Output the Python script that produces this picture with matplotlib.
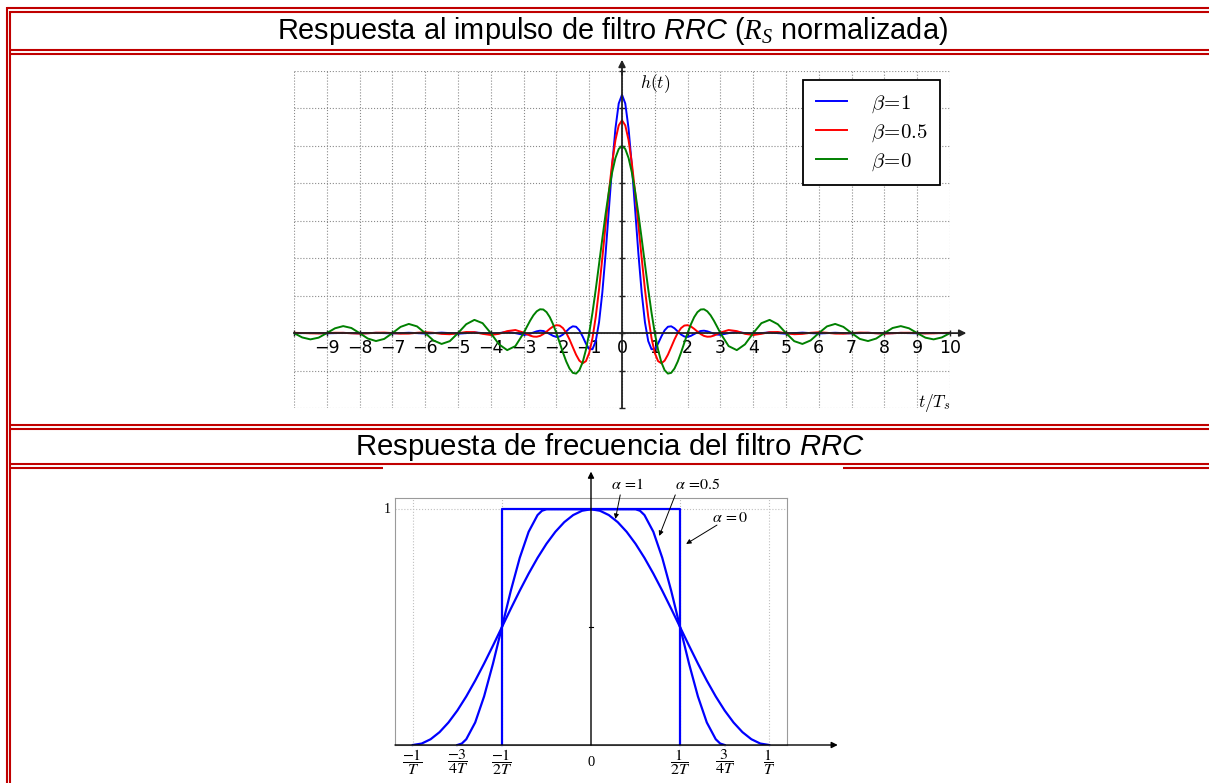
import numpy as np
import matplotlib
matplotlib.use('Agg')
import matplotlib.pyplot as plt
from matplotlib.lines import Line2D
from matplotlib.patches import Rectangle
from matplotlib.font_manager import FontProperties

plt.rcParams['font.family'] = ['DejaVu Sans']
plt.rcParams['mathtext.fontset'] = 'custom'
plt.rcParams['mathtext.rm'] = 'Liberation Sans'
plt.rcParams['mathtext.it'] = 'Liberation Sans:italic'
plt.rcParams['mathtext.tt'] = 'Liberation Serif:italic'
plt.rcParams['axes.unicode_minus'] = True

# ---------------- data: impulse response (t >= 0 half, curves are even) ----------------
t_samples = [0.0, 0.1, 0.2, 0.3, 0.4, 0.5, 0.6, 0.7, 0.8, 0.9, 1.0, 1.1, 1.2, 1.3, 1.4, 1.5,
             1.6, 1.7, 1.8, 1.9, 2.0, 2.1, 2.2, 2.3, 2.4, 2.5, 2.6, 2.7, 2.8, 2.9, 3.0,
             3.25, 3.5, 3.75, 4.0, 4.25, 4.5, 4.75, 5.0, 5.25, 5.5, 5.75, 6.0, 6.25, 6.5, 6.75,
             7.0, 7.25, 7.5, 7.75, 8.0, 8.25, 8.5, 8.75, 9.0, 9.25, 9.5, 9.75, 10.0]
h_beta1 = [1.2732, 1.2263, 1.0929, 0.8942, 0.6603, 0.4244, 0.2164, 0.0575, -0.0426, -0.0861,
           -0.0849, -0.0561, -0.0179, 0.0151, 0.0339, 0.0364, 0.0258, 0.0087, -0.0077, -0.0181,
           -0.0202, -0.0148, -0.0051, 0.0047, 0.0113, 0.0129, 0.0096, 0.0034, -0.0032, -0.0077,
           -0.0089,
           0.0, 0.0065, 0.0, -0.0050, 0.0, 0.0039, 0.0, -0.0032, 0.0, 0.0026, 0.0, -0.0022, 0.0,
           0.0019, 0.0, -0.0016, 0.0, 0.0014, 0.0, -0.0012, 0.0, 0.0011, 0.0, -0.0010, 0.0,
           0.0009, 0.0, -0.0008]
h_beta05 = [1.1366, 1.1095, 1.0310, 0.9083, 0.7528, 0.5786, 0.4006, 0.2329, 0.0876, -0.0269,
            -0.1061, -0.1497, -0.1612, -0.1470, -0.1154, -0.0750, -0.0339, 0.0014, 0.0267, 0.0403,
            0.0424, 0.0355, 0.0228, 0.0081, -0.0054, -0.0150, -0.0194, -0.0186, -0.0134, -0.0055,
            0.0030,
            0.0165, 0.0107, -0.0038, -0.0101, -0.0038, 0.0050, 0.0059, -0.0006, -0.0059, -0.0041,
            0.0017, 0.0045, 0.0017, -0.0025, -0.0030, 0.0002, 0.0028, 0.0020, -0.0010, -0.0025,
            -0.0009, 0.0016, 0.0019, 0.0000, -0.0017, -0.0012, 0.0006, 0.0016]
h_beta0 = [1.0, 0.9836, 0.9355, 0.8584, 0.7568, 0.6366, 0.5046, 0.3679, 0.2339, 0.1093,
           0.0, -0.0894, -0.1559, -0.1981, -0.2162, -0.2122, -0.1892, -0.1515, -0.1039, -0.0518,
           0.0, 0.0468, 0.0850, 0.1120, 0.1261, 0.1273, 0.1164, 0.0954, 0.0668, 0.0339, 0.0,
           -0.0693, -0.0909, -0.0600, 0.0, 0.0530, 0.0707, 0.0474, 0.0, -0.0429, -0.0579, -0.0391,
           0.0, 0.0360, 0.0490, 0.0333, 0.0, -0.0310, -0.0424, -0.0290, 0.0, 0.0273, 0.0374,
           0.0257, 0.0, -0.0243, -0.0335, -0.0231, 0.0]
legend_labels = [r'$\beta\!=\!1$', r'$\beta\!=\!0.5$', r'$\beta\!=\!0$']
x_tick_values = list(range(-10, 11))

# ---------------- data: frequency response (f >= 0 half, in units of 1/T) ----------------
f_a1 = [0.0, 0.05, 0.1, 0.15, 0.2, 0.25, 0.3, 0.35, 0.4, 0.45, 0.5,
        0.55, 0.6, 0.65, 0.7, 0.75, 0.8, 0.85, 0.9, 0.95, 1.0]
H_a1 = [1.0, 0.9938, 0.9755, 0.9455, 0.9045, 0.8536, 0.7939, 0.7270, 0.6545, 0.5782, 0.5,
        0.4218, 0.3455, 0.2730, 0.2061, 0.1464, 0.0955, 0.0545, 0.0245, 0.0062, 0.0]
f_a05 = [0.0, 0.25, 0.275, 0.3, 0.35, 0.4, 0.45, 0.5, 0.55, 0.6, 0.65, 0.7, 0.725, 0.75]
H_a05 = [1.0, 1.0, 0.9938, 0.9755, 0.9045, 0.7939, 0.6545, 0.5, 0.3455, 0.2061, 0.0955, 0.0245,
         0.0062, 0.0]
f_a0 = [0.0, 0.5, 0.5]
H_a0 = [1.0, 1.0, 0.0]
freq_tick_pos = [-1.0, -0.75, -0.5, 0.0, 0.5, 0.75, 1.0]
freq_tick_lbl = [r'$\dfrac{-1}{T}$', r'$\dfrac{-3}{4T}$', r'$\dfrac{-1}{2T}$', '0',
                 r'$\dfrac{1}{2T}$', r'$\dfrac{3}{4T}$', r'$\dfrac{1}{T}$']

title1 = (r'$\mathrm{Respuesta\ al\ impulso\ de\ filtro\ }\mathit{RRC}\mathrm{\ (}'
          r'\mathtt{R}_{\mathtt{S}}\mathrm{\ normalizada)}$')
title2 = r'$\mathrm{Respuesta\ de\ frecuencia\ del\ filtro\ }\mathit{RRC}$'


def mirror(x, y):
    x = np.asarray(x, float)
    y = np.asarray(y, float)
    return np.concatenate([-x[::-1], x[1:]]), np.concatenate([y[::-1], y[1:]])


W, H = 1209, 783
fig = plt.figure(figsize=(W / 100, H / 100), dpi=100)


def fx(px):
    return px / W


def fy(py):
    return 1 - py / H


# ---------------- table borders ----------------
RED = '#C00000'
BLW = 1.5


def seg(x0, y0, x1, y1):
    fig.add_artist(Line2D([fx(x0), fx(x1)], [fy(y0), fy(y1)], color=RED, lw=BLW,
                          transform=fig.transFigure, solid_capstyle='butt'))


seg(7, 7, 7, 783)
seg(6.5, 7.5, 1209, 7.5)
seg(10, 11, 10, 783)
for yy in [11.5, 50, 53.7, 425, 428.5, 464, 468]:
    seg(9.5, yy, 1209, yy)
fig.add_artist(Rectangle((fx(383), fy(470.5)), (843 - 383) / W, 4.5 / H,
                         transform=fig.transFigure, facecolor='white', edgecolor='none', zorder=5))

fig.text(fx(612), fy(31), title1, ha='center', va='center', fontsize=20.8)
fig.text(fx(610), fy(447), title2, ha='center', va='center', fontsize=21.2)

# ---------------- chart 1 ----------------
ax1 = fig.add_axes([fx(294), fy(408), (950 - 294) / W, (408 - 71) / H])
ax1.set_xlim(-10, 10)
ax1.set_ylim(-0.4, 1.4)
ax1.set_axisbelow(True)
ax1.grid(True, ls=':', color='#8a8a8a', lw=0.8)
for key in ['top', 'right']:
    ax1.spines[key].set_visible(False)
for key in ['left', 'bottom']:
    ax1.spines[key].set_position(('data', 0))
    ax1.spines[key].set_color('#222222')
    ax1.spines[key].set_linewidth(1.3)
ax1.set_xticks(x_tick_values)
ax1.set_xticklabels(['' if v == -10 else str(v).replace('-', '\u2212') for v in x_tick_values])
ax1.set_yticks(np.arange(-0.4, 1.41, 0.2))
ax1.set_yticklabels([])
ax1.tick_params(axis='both', direction='inout', length=5, width=1.0, color='#222222',
                labelsize=12.5, pad=1.5)

colors = ['b', 'r', 'g']
for hv, col, lab in zip([h_beta1, h_beta05, h_beta0], colors, legend_labels):
    xx, yy = mirror(t_samples, hv)
    ax1.plot(xx, yy, color=col, lw=1.4, label=lab)

ax1.annotate('', xy=(10.5, 0), xytext=(9.9, 0), annotation_clip=False,
             arrowprops=dict(arrowstyle='-|>', color='#222222', lw=1.3, mutation_scale=10,
                             shrinkA=0, shrinkB=0))
ax1.annotate('', xy=(0, 1.46), xytext=(0, 1.38), annotation_clip=False,
             arrowprops=dict(arrowstyle='-|>', color='#222222', lw=1.3, mutation_scale=10,
                             shrinkA=0, shrinkB=0))
ax1.text(1.0, 1.33, r'$h(t)$', math_fontfamily='cm', fontsize=12.5, ha='center', va='center')
ax1.text(10.0, -0.375, r'$t/T_s$', math_fontfamily='cm', fontsize=12.5, ha='right', va='center')

leg = ax1.legend(loc='upper right', bbox_to_anchor=(0.985, 0.973), borderaxespad=0,
                 prop=FontProperties(size=15, math_fontfamily='cm'), fancybox=False,
                 edgecolor='black', framealpha=1, handlelength=1.5, handletextpad=1.15,
                 labelspacing=0.32, borderpad=0.6)
leg.get_frame().set_linewidth(1.3)

# ---------------- chart 2 ----------------
ax2 = fig.add_axes([fx(395), fy(745), (787 - 395) / W, (745 - 497.5) / H])
ax2.set_xlim(-1.1, 1.1)
ax2.set_ylim(0, 1.05)
ax2.set_xticks([])
ax2.set_yticks([])
for sp in ax2.spines.values():
    sp.set_color('#9a9a9a')
    sp.set_linewidth(0.8)
for xv in [-1.0, -0.5, 0.5, 1.0]:
    ax2.axvline(xv, ls=':', color='#c0c0c0', lw=0.8)
ax2.axhline(1.0, ls=':', color='#c0c0c0', lw=0.8)

for ff, hh in [(f_a1, H_a1), (f_a05, H_a05), (f_a0, H_a0)]:
    xx, yy = mirror(ff, hh)
    ax2.plot(xx, yy, color='#0000ff', lw=1.6, clip_on=False)

ax2.annotate('', xy=(1.385, 0), xytext=(-1.1, 0), annotation_clip=False,
             arrowprops=dict(arrowstyle='-|>', color='black', lw=1.0, mutation_scale=9,
                             shrinkA=0, shrinkB=0))
ax2.annotate('', xy=(0, 1.16), xytext=(0, 0), annotation_clip=False,
             arrowprops=dict(arrowstyle='-|>', color='black', lw=1.0, mutation_scale=9,
                             shrinkA=0, shrinkB=0))
ax2.plot([-0.012, 0.012], [0.5, 0.5], color='black', lw=0.8)
ax2.text(-1.125, 1.0, '1', ha='right', va='center', family='Liberation Serif', fontsize=10)

for xv, lb in zip(freq_tick_pos, freq_tick_lbl):
    if lb == '0':
        ax2.text(xv, -0.076, lb, ha='center', va='center', family='Liberation Serif', fontsize=10.5)
    else:
        ax2.text(xv, -0.01, lb, ha='center', va='top', math_fontfamily='stix', fontsize=11.5)

afp = dict(arrowstyle='-|>', color='black', lw=0.7, mutation_scale=7, shrinkA=0, shrinkB=0)
ax2.text(0.203, 1.107, r'$\alpha\,=\!1$', math_fontfamily='stix', fontsize=11.5, ha='center', va='center')
ax2.text(0.600, 1.107, r'$\alpha\,=\!0.5$', math_fontfamily='stix', fontsize=11.5, ha='center', va='center')
ax2.text(0.780, 0.967, r'$\alpha\,=0$', math_fontfamily='stix', fontsize=11.5, ha='center', va='center')
ax2.annotate('', xy=(0.137, 0.959), xytext=(0.164, 1.061), arrowprops=afp, annotation_clip=False)
ax2.annotate('', xy=(0.383, 0.887), xytext=(0.473, 1.061), arrowprops=afp, annotation_clip=False)
ax2.annotate('', xy=(0.534, 0.853), xytext=(0.707, 0.933), arrowprops=afp, annotation_clip=False)

fig.savefig('out.png', dpi=100, facecolor='white')
